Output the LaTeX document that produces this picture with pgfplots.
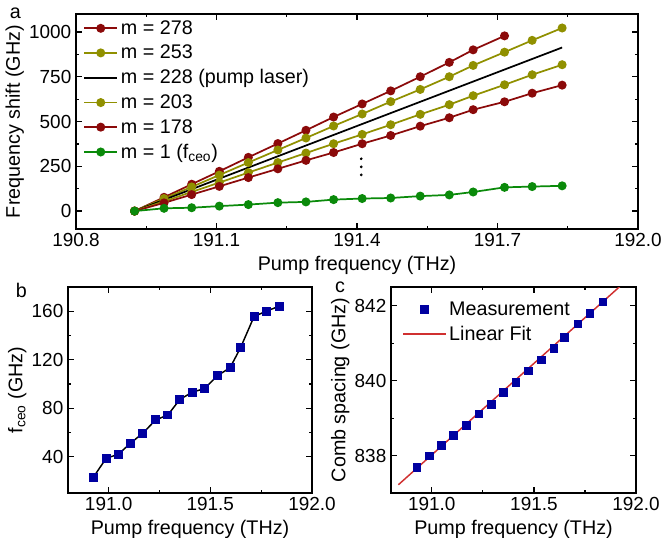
\documentclass[border=0pt]{standalone}
\usepackage{fontspec}
\setmainfont{Liberation Sans}
\usepackage{pgfplots}
\pgfplotsset{compat=1.18}

\definecolor{mred}{HTML}{8B0A0A}
\definecolor{molive}{HTML}{909000}
\definecolor{mgreen}{HTML}{0A8A0A}
\definecolor{mblue}{HTML}{0000A0}
\definecolor{fitred}{HTML}{D03030}

\newcommand{\fs}{\fontsize{14.2}{16}\selectfont}
\newcommand{\fl}{\fontsize{14.8}{17}\selectfont}

\pgfplotsset{
  figstyle/.style={
    scale only axis,
    axis line style={line width=1.2pt},
    every tick/.style={black, line width=0.9pt},
    tick align=inside,
    major tick length=4.5pt,
    minor tick length=2.5pt,
    tick label style={font=\fs},
    label style={font=\fl},
    ylabel shift=-3pt,
    /pgf/number format/assume math mode=true,
    /pgf/number format/1000 sep={},
    xticklabel style={/pgf/number format/.cd, fixed, fixed zerofill, precision=1},
  },
  dotline/.style={line width=1.3pt, color=#1, mark=*, mark size=2.7pt,
    mark options={solid, fill=#1, draw=#1}},
}

% panel a: frequency shift of comb lines (GHz)
\pgfplotstableread{
x        m278  m253  m203  m178  m1
190.925  0     0     0     0     0
190.988  77    70    54    46    15.6
191.047  150   135   107   92    18.8
191.106  222   201   159   138   27.8
191.168  300   271   215   187   36.3
191.231  377   341   271   236   47.2
191.291  451   408   324   283   51.3
191.350  525   475   376   327   64.1
191.411  598   542   428   376   70.1
191.472  671   611   482   422   73.1
191.535  750   679   540   474   83.7
191.597  830   750   594   521   90.3
191.648  900   813   644   566   106.6
191.715  978   887   705   610   132.5
191.774  nan   953   761   658   136.9
191.838  nan   1022  817   703   141.0
}\tabA

% panels b and c: f_ceo and comb spacing (GHz)
\pgfplotstableread{
x        fceo   frep
190.925  23.1   837.69
190.988  38.7   838.00
191.047  41.9   838.27
191.106  50.9   838.54
191.168  59.4   838.81
191.231  70.3   839.11
191.291  74.4   839.37
191.350  87.2   839.69
191.411  93.2   839.96
191.472  96.2   840.26
191.535  106.8  840.56
191.597  113.4  840.86
191.648  129.7  841.16
191.715  155.6  841.52
191.774  160.0  841.80
191.838  164.1  842.10
}\tabB

\begin{document}
\begin{tikzpicture}
\useasboundingbox (0,0) rectangle (497.25pt,-402.75pt);

\begin{axis}[figstyle,
  at={(57pt,-10.5pt)}, anchor=north west,
  width=421.5pt, height=161.25pt,
  xmin=190.8, xmax=192.0, ymin=-100, ymax=1100,
  xtick={190.8,191.1,191.4,191.7,192.0},
  ytick={0,250,500,750,1000},
  minor x tick num=1, minor y tick num=1,
  xlabel={Pump frequency (THz)},
  ylabel={Frequency shift (GHz)},
  unbounded coords=jump,
  legend cell align=left,
  legend style={draw=none, fill=none, font=\fl, at={(0.01,0.99)}, anchor=north west,
    row sep=2.6pt, inner sep=1pt},
  legend image code/.code={
    \draw[mark repeat=2, mark phase=2] plot coordinates {(0pt,0pt) (12.5pt,0pt) (25pt,0pt)};},
]
\addplot[dotline=mred] table[x=x, y=m278] {\tabA};
\addlegendentry{m = 278}
\addplot[dotline=molive] table[x=x, y=m253] {\tabA};
\addlegendentry{m = 253}
\addplot[line width=1.3pt, black] coordinates {(190.925,0) (191.838,913)};
\addlegendentry{m = 228 (pump laser)}
\addplot[dotline=molive] table[x=x, y=m203] {\tabA};
\addlegendentry{m = 203}
\addplot[dotline=mred] table[x=x, y=m178] {\tabA};
\addlegendentry{m = 178}
\addplot[dotline=mgreen] table[x=x, y=m1] {\tabA};
\addlegendentry{m = 1 (f\textsubscript{ceo})}
\addplot[only marks, mark=*, mark size=0.8pt, black, forget plot]
  coordinates {(191.409,292) (191.409,247) (191.409,202)};
\end{axis}

\begin{axis}[figstyle,
  at={(51pt,-215.25pt)}, anchor=north west,
  width=183pt, height=154.5pt,
  xmin=190.8, xmax=192.0, ymin=10, ymax=180,
  xtick={191.0,191.5,192.0},
  ytick={40,80,120,160},
  minor x tick num=1, minor y tick num=1,
  xlabel={Pump frequency (THz)},
  ylabel={f\textsubscript{ceo} (GHz)},
]
\addplot[line width=1.1pt, black, mark=square*, mark size=2.8pt,
  mark options={fill=mblue, draw=mblue}] table[x=x, y=fceo] {\tabB};
\end{axis}

\begin{axis}[figstyle,
  at={(293.25pt,-215.25pt)}, anchor=north west,
  width=183.75pt, height=154.5pt,
  xmin=190.8, xmax=192.0, ymin=837.0, ymax=842.5,
  xtick={191.0,191.5,192.0},
  ytick={838,840,842},
  minor x tick num=1, minor y tick num=1,
  xlabel={Pump frequency (THz)},
  ylabel={Comb spacing (GHz)},
  reverse legend,
  legend cell align=left,
  legend style={draw=none, fill=none, font=\fl, at={(0.04,0.95)}, anchor=north west,
    row sep=2.6pt, inner sep=1pt},
  legend image code/.code={
    \draw[mark repeat=2, mark phase=2] plot coordinates {(0pt,0pt) (16pt,0pt) (32pt,0pt)};},
]
\addplot[line width=1.1pt, fitred] coordinates {(190.836,837.22) (192.0,842.90)};
\addlegendentry{Linear Fit}
\addplot[only marks, mark=square*, mark size=2.8pt,
  mark options={fill=mblue, draw=mblue}] table[x=x, y=frep] {\tabB};
\addlegendentry{Measurement}
\end{axis}

\node[font=\fl] at (11.5pt,-10pt) {a};
\node[font=\fl] at (16pt,-217.5pt) {b};
\node[font=\fl] at (255pt,-215.25pt) {c};
\end{tikzpicture}
\end{document}
